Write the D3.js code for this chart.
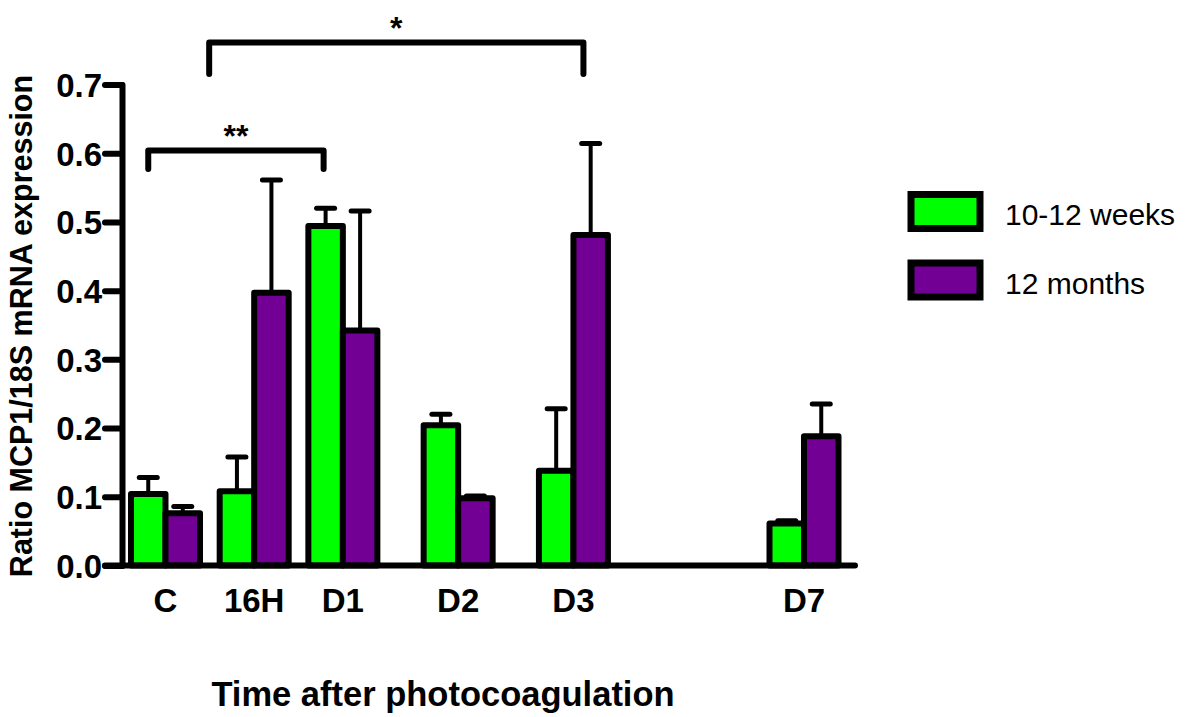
<!DOCTYPE html>
<html>
<head>
<meta charset="utf-8">
<script src="https://cdn.jsdelivr.net/npm/d3@7"></script>
<style>
  body { margin: 0; background: #fff; }
  svg { display: block; font-family: "Liberation Sans", Arial, sans-serif; }
</style>
</head>
<body>
<svg id="chart"></svg>
<script>
// chart data
const categories = ['C', '16H', 'D1', 'D2', 'D3', 'D7'];
const seriesNames = ['10-12 weeks', '12 months'];
const weeksMean = [0.104, 0.108, 0.494, 0.204, 0.138, 0.061];
const weeksErrTop = [0.128, 0.158, 0.520, 0.220, 0.228, 0.065];
const monthsMean = [0.076, 0.397, 0.342, 0.098, 0.481, 0.188];
const monthsErrTop = [0.086, 0.561, 0.516, 0.101, 0.614, 0.235];
const yTicks = [0.0, 0.1, 0.2, 0.3, 0.4, 0.5, 0.6, 0.7];
// significance brackets: [from category, to category, label]
const brackets = [
  ['C', 'D1', '**'],
  ['16H', 'D3', '*'],
];

const W = 1191, H = 717;
const svg = d3.select('#chart').attr('width', W).attr('height', H);

const seriesColors = ['#00ff00', '#730095'];

// group layout: uneven gaps like the original graph
const slots = [0, 1, 2, 3.3, 4.6, 7.2];
const x = d3.scaleLinear().domain([0, 7.2]).range([165.5, 804]);
const y = d3.scaleLinear().domain([0, 0.7]).range([565.5, 84.5]);
const barW = 34.5;

const rows = categories.map((c, i) => ({
  cat: c,
  cx: x(slots[i]),
  vals: [
    { s: 0, v: weeksMean[i], e: weeksErrTop[i] },
    { s: 1, v: monthsMean[i], e: monthsErrTop[i] },
  ],
}));
const cxOf = (c) => rows[categories.indexOf(c)].cx;

// error bars (upper only), drawn first so the bar outline covers the stem
const eb = svg.append('g');
rows.forEach((r) => {
  r.vals.forEach((d) => {
    const bx = r.cx + (d.s === 0 ? -barW / 2 : barW / 2);
    eb.append('line')
      .attr('x1', bx).attr('x2', bx)
      .attr('y1', y(d.v)).attr('y2', y(d.e))
      .attr('stroke', '#000').attr('stroke-width', 4);
    eb.append('line')
      .attr('x1', bx - 9).attr('x2', bx + 9)
      .attr('y1', y(d.e)).attr('y2', y(d.e))
      .attr('stroke', '#000').attr('stroke-width', 5)
      .attr('stroke-linecap', 'round');
  });
});

// bars
const bars = svg.append('g');
rows.forEach((r) => {
  bars.selectAll(null)
    .data(r.vals)
    .enter()
    .append('rect')
    .attr('x', (d) => (d.s === 0 ? r.cx - barW : r.cx))
    .attr('y', (d) => y(d.v))
    .attr('width', barW)
    .attr('height', (d) => y(0) - y(d.v))
    .attr('fill', (d) => seriesColors[d.s])
    .attr('stroke', '#000')
    .attr('stroke-width', 6)
    .attr('stroke-linejoin', 'round');
});

// y axis
const yAxis = d3.axisLeft(y)
  .tickValues(yTicks)
  .tickFormat(d3.format('.1f'))
  .tickSize(17)
  .tickPadding(3)
  .tickSizeOuter(0);
const ya = svg.append('g').attr('transform', 'translate(122,0)').call(yAxis);
ya.select('.domain').attr('stroke-width', 6).attr('stroke-linecap', 'round');
ya.selectAll('.tick line').attr('stroke-width', 6).attr('stroke-linecap', 'round');
ya.selectAll('.tick text')
  .attr('fill', '#000')
  .style('font-size', '33px')
  .style('font-weight', 'bold')
  .attr('dy', '0.36em');

// x baseline
svg.append('line')
  .attr('x1', 105).attr('x2', 855)
  .attr('y1', y(0)).attr('y2', y(0))
  .attr('stroke', '#000').attr('stroke-width', 6)
  .attr('stroke-linecap', 'round');

// category labels
svg.append('g')
  .selectAll('text')
  .data(rows)
  .enter()
  .append('text')
  .attr('x', (d) => d.cx)
  .attr('y', 612)
  .attr('text-anchor', 'middle')
  .style('font-size', '33px')
  .style('font-weight', 'bold')
  .text((d) => d.cat);

// significance brackets
const bracketY = [150.5, 42.5];
const bracketFoot = [169, 74];
const bracketEnds = [
  [cxOf(brackets[0][0]) - barW / 2, cxOf(brackets[0][1]) - barW / 2 - 2],
  [cxOf(brackets[1][0]) - 45, cxOf(brackets[1][1]) + 10],
];
brackets.forEach((b, i) => {
  const [xa, xb] = bracketEnds[i];
  svg.append('path')
    .attr('d', `M${xa},${bracketFoot[i]}V${bracketY[i]}H${xb}V${bracketFoot[i]}`)
    .attr('fill', 'none')
    .attr('stroke', '#000')
    .attr('stroke-width', 6)
    .attr('stroke-linecap', 'round')
    .attr('stroke-linejoin', 'round');
  svg.append('text')
    .attr('x', (xa + xb) / 2)
    .attr('y', bracketY[i] - 4)
    .attr('text-anchor', 'middle')
    .style('font-size', '32px')
    .style('font-weight', 'bold')
    .text(b[2]);
});

// axis titles
svg.append('text')
  .attr('transform', 'translate(32,326) rotate(-90)')
  .attr('text-anchor', 'middle')
  .style('font-size', '30.5px')
  .style('font-weight', 'bold')
  .text('Ratio MCP1/18S mRNA expression');

svg.append('text')
  .attr('x', 443)
  .attr('y', 706)
  .attr('text-anchor', 'middle')
  .style('font-size', '34.5px')
  .style('font-weight', 'bold')
  .text('Time after photocoagulation');

// legend
const legend = svg.append('g');
seriesNames.forEach((name, i) => {
  const ly = 194.5 + i * 68.5;
  legend.append('rect')
    .attr('x', 911).attr('y', ly)
    .attr('width', 69).attr('height', 34)
    .attr('fill', seriesColors[i])
    .attr('stroke', '#000')
    .attr('stroke-width', 7);
  legend.append('text')
    .attr('x', 1005)
    .attr('y', ly + 30.5)
    .style('font-size', '30px')
    .text(name);
});
</script>
</body>
</html>
